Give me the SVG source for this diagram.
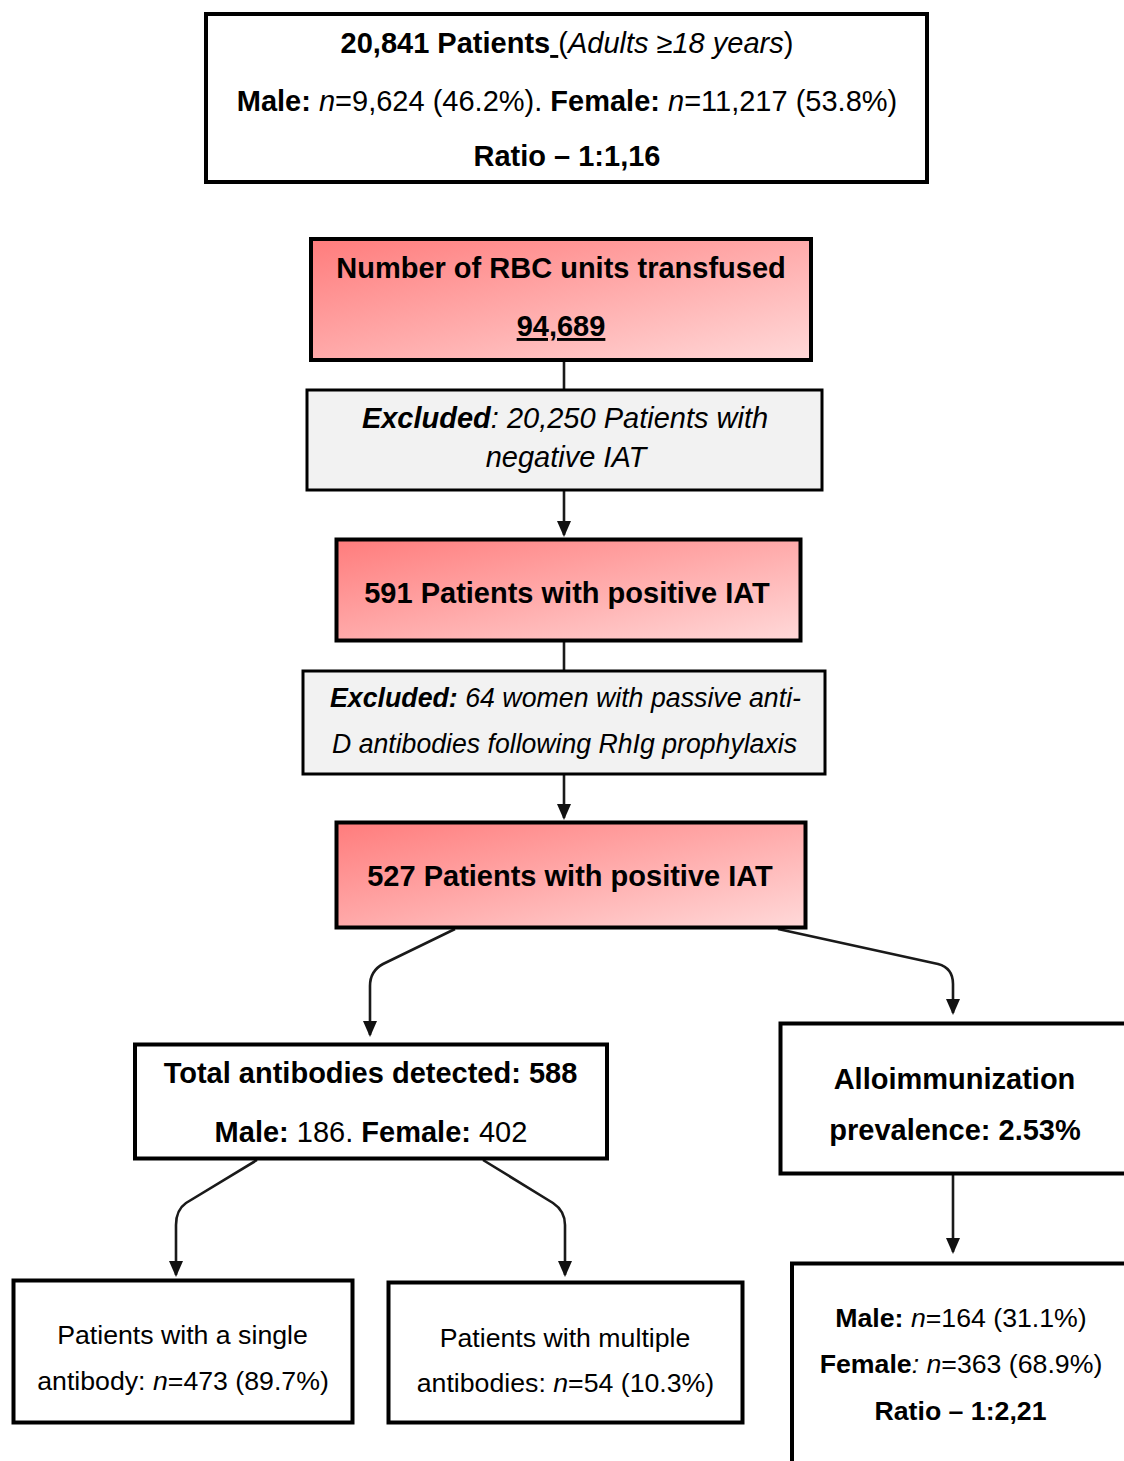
<svg xmlns="http://www.w3.org/2000/svg" width="1124" height="1461" viewBox="0 0 1124 1461">
  <defs>
    <linearGradient id="pinkFill" x1="0" y1="0" x2="1" y2="1">
      <stop offset="0" stop-color="#ff7c7c"/>
      <stop offset="0.5" stop-color="#ffaaaa"/>
      <stop offset="1" stop-color="#ffd9d9"/>
    </linearGradient>
    <marker id="arrow" viewBox="0 0 16 14" refX="14" refY="7" markerWidth="16" markerHeight="14" markerUnits="userSpaceOnUse" orient="auto">
      <path d="M0,0 L16,7 L0,14 z" fill="#111"/>
    </marker>
    <style>
      text { font-family: "Liberation Sans", Arial, sans-serif; fill: #000; text-anchor: middle; }
      .t29 { font-size: 29px; }
      .t27 { font-size: 26.7px; }
      .b { font-weight: bold; }
      .i { font-style: italic; }
      .box { fill: #fff; stroke: #000; stroke-width: 4; }
      .hot { fill: url(#pinkFill); stroke: #000; stroke-width: 4; }
      .excl { fill: #f2f2f2; stroke: #000; stroke-width: 3; }
      .link { fill: none; stroke: #1a1a1a; stroke-width: 2.6; stroke-linejoin: round; }
    </style>
  </defs>

  <rect width="1124" height="1461" fill="#fff"/>

  <!-- connectors -->
  <g id="connectors">
    <path class="link" d="M564,361 V389"/>
    <path class="link" d="M564,491 V535" marker-end="url(#arrow)"/>
    <path class="link" d="M564,642 V670"/>
    <path class="link" d="M564,775 V818" marker-end="url(#arrow)"/>
    <path class="link" d="M455,929 L383,964 Q370,971 370,986 V1035" marker-end="url(#arrow)"/>
    <path class="link" d="M778,929 L938,964 Q953,968 953,984 V1013" marker-end="url(#arrow)"/>
    <path class="link" d="M953,1175 V1252" marker-end="url(#arrow)"/>
    <path class="link" d="M257,1160 L186,1203 Q176,1210 176,1225 V1275" marker-end="url(#arrow)"/>
    <path class="link" d="M483,1160 L553,1203 Q565,1211 565,1225 V1275" marker-end="url(#arrow)"/>
  </g>

  <!-- study population -->
  <g id="node-population">
    <rect class="box" x="206" y="14" width="721" height="168"/>
    <text class="t29" x="567" y="53" style="white-space:pre"><tspan class="b">20,841 Patients</tspan><tspan text-decoration="underline"> </tspan>(<tspan class="i">Adults ≥18 years</tspan>)</text>
    <text class="t29" x="567" y="111"><tspan class="b">Male:</tspan> <tspan class="i">n</tspan>=9,624 (46.2%). <tspan class="b">Female:</tspan> <tspan class="i">n</tspan>=11,217 (53.8%)</text>
    <text class="t29 b" x="567" y="166">Ratio – 1:1,16</text>
  </g>

  <!-- RBC units -->
  <g id="node-rbc">
    <rect class="hot" x="311" y="239" width="500" height="121"/>
    <text class="t29 b" x="561" y="278">Number of RBC units transfused</text>
    <text class="t29 b" x="561" y="336" text-decoration="underline">94,689</text>
  </g>

  <!-- first exclusion -->
  <g id="node-excluded-negative">
    <rect class="excl" x="307" y="390" width="515" height="100"/>
    <text class="t29 i" x="565" y="428"><tspan class="b">Excluded</tspan>: 20,250 Patients with</text>
    <text class="t29 i" x="566" y="467">negative IAT</text>
  </g>

  <!-- positive IAT -->
  <g id="node-positive-591">
    <rect class="hot" x="336.5" y="539.5" width="464" height="101"/>
    <text class="t29 b" x="567" y="603">591 Patients with positive IAT</text>
  </g>

  <!-- second exclusion -->
  <g id="node-excluded-antiD">
    <rect class="excl" x="303" y="671" width="522" height="103"/>
    <text class="i" font-size="27" x="565.5" y="707" textLength="471" lengthAdjust="spacingAndGlyphs"><tspan class="b">Excluded:</tspan> 64 women with passive anti-</text>
    <text class="i" font-size="27" x="564.5" y="753" textLength="465" lengthAdjust="spacingAndGlyphs">D antibodies following RhIg prophylaxis</text>
  </g>

  <!-- positive IAT after exclusion -->
  <g id="node-positive-527">
    <rect class="hot" x="336.5" y="822.5" width="469" height="105"/>
    <text class="t29 b" x="570" y="886">527 Patients with positive IAT</text>
  </g>

  <!-- antibodies detected -->
  <g id="node-antibodies">
    <rect class="box" x="135" y="1044.5" width="472" height="114"/>
    <text class="t29 b" x="370.5" y="1083">Total antibodies detected: 588</text>
    <text class="t29" x="371" y="1142"><tspan class="b">Male:</tspan> 186. <tspan class="b">Female:</tspan> 402</text>
  </g>

  <!-- prevalence -->
  <g id="node-prevalence">
    <rect class="box" x="780.5" y="1023.5" width="360" height="150"/>
    <text class="t29 b" x="954.5" y="1089">Alloimmunization</text>
    <text class="t29 b" x="955" y="1140">prevalence: 2.53%</text>
  </g>

  <!-- sex distribution -->
  <g id="node-sex">
    <rect class="box" x="792" y="1263.5" width="360" height="220" stroke-width="5"/>
    <text class="t27" x="961" y="1327"><tspan class="b">Male:</tspan> <tspan class="i">n</tspan>=164 (31.1%)</text>
    <text class="t27" x="961" y="1373"><tspan class="b">Female</tspan><tspan class="i">:</tspan> <tspan class="i">n</tspan>=363 (68.9%)</text>
    <text class="t27 b" x="960.5" y="1420">Ratio – 1:2,21</text>
  </g>

  <!-- single antibody -->
  <g id="node-single">
    <rect class="box" x="13.5" y="1280.5" width="339" height="142"/>
    <text class="t27" x="182.5" y="1344">Patients with a single</text>
    <text class="t27" x="183" y="1390">antibody: <tspan class="i">n</tspan>=473 (89.7%)</text>
  </g>

  <!-- multiple antibodies -->
  <g id="node-multiple">
    <rect class="box" x="388.5" y="1282.5" width="354" height="140"/>
    <text class="t27" x="565" y="1347">Patients with multiple</text>
    <text class="t27" x="565.5" y="1392">antibodies: <tspan class="i">n</tspan>=54 (10.3%)</text>
  </g>
</svg>
